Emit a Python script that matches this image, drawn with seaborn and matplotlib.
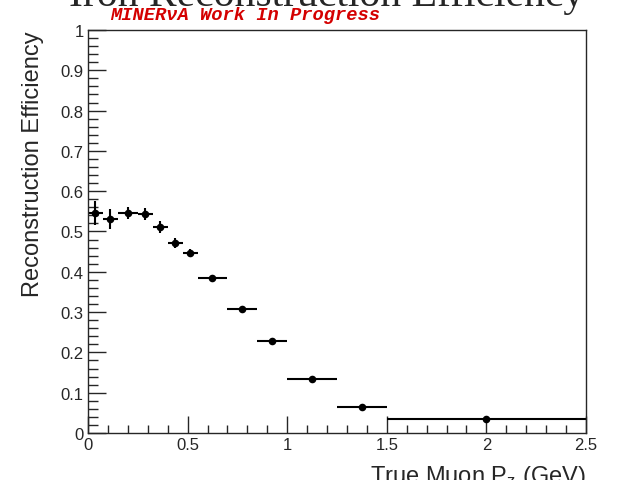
import numpy as np
import pandas as pd
import matplotlib.pyplot as plt
import seaborn as sns
from matplotlib.ticker import MultipleLocator

# Bins in true muon Pz (GeV) and efficiency
bin_lo = [0.0, 0.075, 0.15, 0.25, 0.325, 0.4, 0.475, 0.55, 0.7, 0.85, 1.0, 1.25, 1.5]
bin_hi = [0.075, 0.15, 0.25, 0.325, 0.4, 0.475, 0.55, 0.7, 0.85, 1.0, 1.25, 1.5, 2.5]
eff = [0.545, 0.532, 0.547, 0.543, 0.512, 0.472, 0.446, 0.385, 0.307, 0.228, 0.134, 0.065, 0.035]
eff_err = [0.03, 0.025, 0.015, 0.015, 0.015, 0.012, 0.01, 0.008, 0.006, 0.006, 0.005, 0.004, 0.003]

x_ticks = [0, 0.5, 1, 1.5, 2, 2.5]
x_labels = ['0', '0.5', '1', '1.5', '2', '2.5']
y_ticks = [0, 0.1, 0.2, 0.3, 0.4, 0.5, 0.6, 0.7, 0.8, 0.9, 1]
y_labels = ['0', '0.1', '0.2', '0.3', '0.4', '0.5', '0.6', '0.7', '0.8', '0.9', '1']

df = pd.DataFrame({'lo': bin_lo, 'hi': bin_hi, 'eff': eff, 'err': eff_err})
df['pz'] = (df['lo'] + df['hi']) / 2
df['xerr'] = (df['hi'] - df['lo']) / 2

sns.set_style('ticks')
plt.rcParams['font.family'] = ['Liberation Sans', 'DejaVu Sans']
plt.rcParams['mathtext.default'] = 'regular'

fig = plt.figure(figsize=(6.17, 4.81), dpi=100)
ax = fig.add_axes([0.1426, 0.0977, 0.8072, 0.8379])

ax.errorbar(df['pz'], df['eff'], xerr=df['xerr'], yerr=df['err'], fmt='none',
            ecolor='black', elinewidth=1.5, capsize=0)
sns.scatterplot(x='pz', y='eff', data=df, color='black', s=30, edgecolor='black',
                linewidth=0, zorder=3, ax=ax)

ax.set_xlim(0, 2.5)
ax.set_ylim(0, 1)
ax.set_xticks(x_ticks)
ax.set_xticklabels(x_labels)
ax.set_yticks(y_ticks)
ax.set_yticklabels(y_labels)
ax.xaxis.set_minor_locator(MultipleLocator(0.1))
ax.yaxis.set_minor_locator(MultipleLocator(0.02))
ax.tick_params(which='both', direction='in', top=False, right=False, labelsize=12, width=1)
ax.tick_params(axis='y', which='major', length=13, pad=3)
ax.tick_params(axis='y', which='minor', length=7)
ax.tick_params(axis='x', which='major', length=12, pad=3)
ax.tick_params(axis='x', which='minor', length=6)
for sp in ax.spines.values():
    sp.set_linewidth(1)

ax.set_xlabel('True Muon P$_z$ (GeV)', fontsize=17, loc='right', labelpad=8)
ax.set_ylabel('Reconstruction Efficiency', fontsize=17, loc='top', labelpad=12)

fig.text(0.53, 0.988, 'Iron Reconstruction Efficiency', ha='center', va='baseline',
         fontsize=30, family=['Liberation Serif', 'DejaVu Serif'])
fig.text(0.178, 0.967, 'MINER\u03bdA Work In Progress', ha='left', va='center', color='#d40000',
         fontsize=13.5, fontweight='bold', fontstyle='italic',
         family=['Liberation Mono', 'DejaVu Sans Mono'])

plt.savefig('out.png', dpi=100)
plt.close()
